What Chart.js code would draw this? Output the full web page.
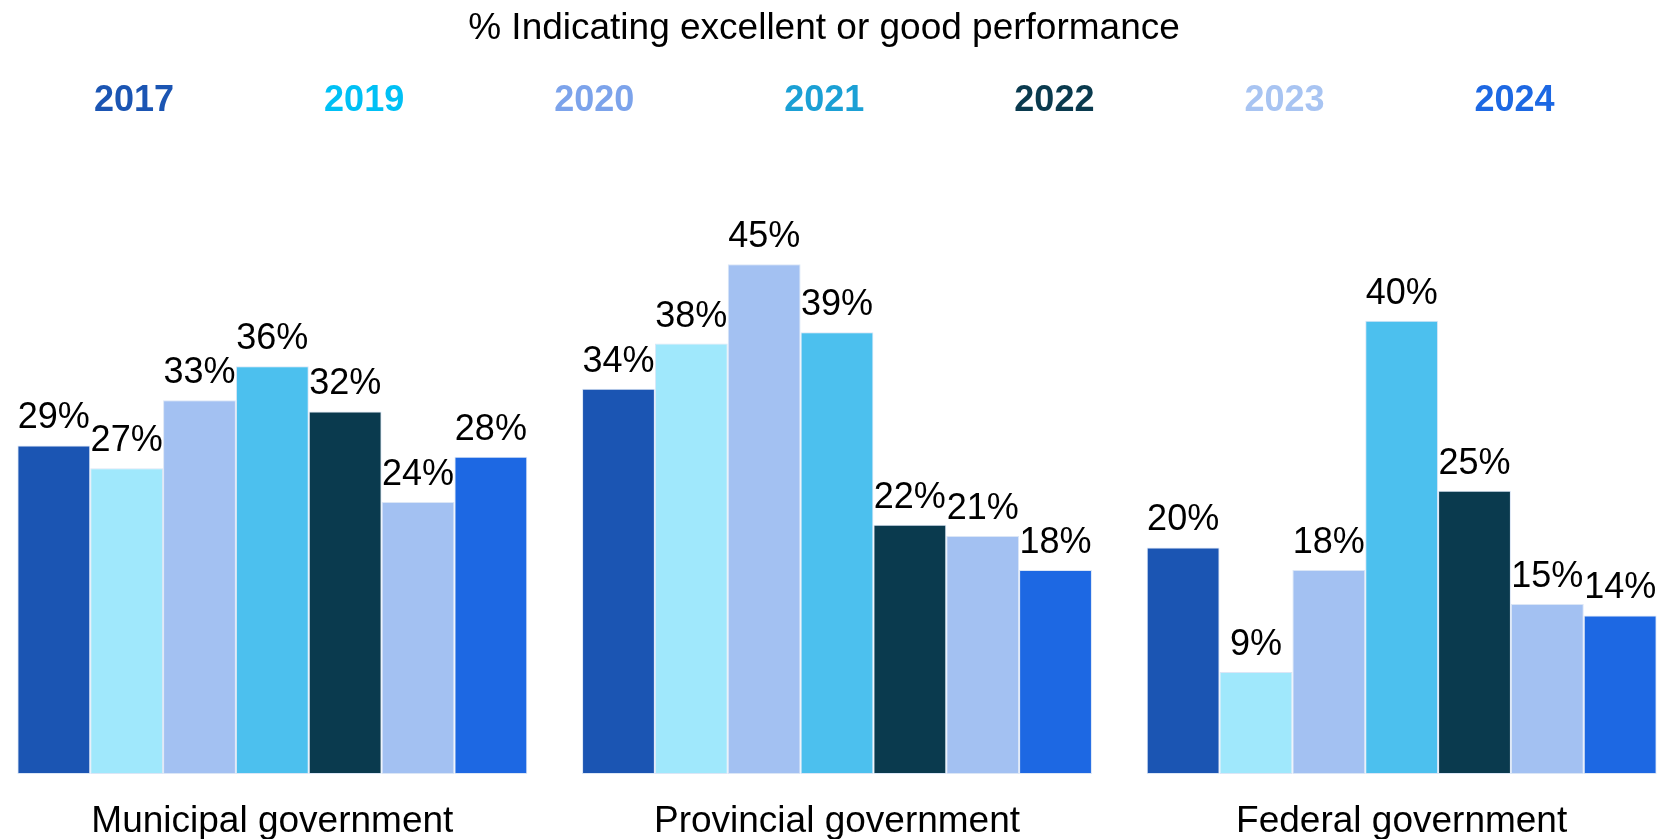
<!DOCTYPE html>
<html>
<head>
<meta charset="utf-8">
<script src="https://cdn.jsdelivr.net/npm/chart.js@4"></script>
<style>
  html, body { margin: 0; padding: 0; background: #fff; overflow: hidden; }
  body { width: 1658px; height: 839px; position: relative; }
  #wrap { position: absolute; left: -56px; top: 0; width: 1760px; height: 839px; }
</style>
</head>
<body>
<div id="wrap"><canvas id="chartGov"></canvas></div>
<script>
const categories = ['Municipal government', 'Provincial government', 'Federal government'];
const years = ['2017', '2019', '2020', '2021', '2022', '2023', '2024'];
const values2017 = [29, 34, 20];
const values2019 = [27, 38, 9];
const values2020 = [33, 45, 18];
const values2021 = [36, 39, 40];
const values2022 = [32, 22, 25];
const values2023 = [24, 21, 15];
const values2024 = [28, 18, 14];
const barColors = ['#1b55b3', '#a0e8fc', '#a3c1f2', '#4cc0ee', '#0a3a4e', '#a3c1f2', '#1d68e3'];
const legendColors = ['#1b55b3', '#00c0f5', '#7ca3eb', '#1ba0d5', '#0a3a4e', '#a8c4f2', '#1d68e3'];

const seriesValues = [values2017, values2019, values2020, values2021, values2022, values2023, values2024];
const FONT = '"Liberation Sans", Arial, sans-serif';

// draws the "NN%" labels above each bar
const barLabels = {
    id: 'barLabels',
    afterDatasetsDraw(chart) {
        const ctx = chart.ctx;
        ctx.save();
        ctx.font = '36px ' + FONT;
        ctx.fillStyle = '#000';
        ctx.textAlign = 'center';
        ctx.textBaseline = 'alphabetic';
        chart.data.datasets.forEach((ds, i) => {
            chart.getDatasetMeta(i).data.forEach((bar, j) => {
                ctx.fillText(ds.data[j] + '%', bar.x, bar.y - 17);
            });
        });
        ctx.restore();
    }
};

const ctxGov = document.getElementById('chartGov').getContext('2d');
const chartGov = new Chart(ctxGov, {
    type: 'bar',
    data: {
        labels: categories,
        datasets: years.map((y, i) => ({
            label: y,
            data: seriesValues[i],
            backgroundColor: barColors[i],
            borderColor: '#dbe6f6',
            borderWidth: 1,
            borderSkipped: false,
            categoryPercentage: 0.903,
            barPercentage: 1
        }))
    },
    options: {
        responsive: true,
        maintainAspectRatio: false,
        animation: false,
        layout: { padding: 0 },
        plugins: {
            title: {
                display: true,
                text: '% Indicating excellent or good performance',
                color: '#000',
                font: { family: FONT, size: 37, weight: 'normal' },
                padding: { top: 7, bottom: 22 }
            },
            legend: {
                display: true,
                align: 'start',
                labels: {
                    boxWidth: 122,
                    boxHeight: 36,
                    padding: 10,
                    font: { family: FONT, size: 36, weight: 'bold' },
                    generateLabels: chart => chart.data.datasets.map((ds, i) => ({
                        text: ds.label,
                        fontColor: legendColors[i],
                        fillStyle: 'rgba(0,0,0,0)',
                        strokeStyle: 'rgba(0,0,0,0)',
                        lineWidth: 0,
                        hidden: false,
                        datasetIndex: i
                    }))
                }
            },
            tooltip: { enabled: false }
        },
        scales: {
            x: {
                grid: { display: false, drawTicks: false },
                border: { display: false },
                ticks: {
                    color: '#000',
                    padding: 26,
                    font: { family: FONT, size: 37 }
                },
                afterFit: axis => { axis.height = 65; }
            },
            y: {
                min: 0,
                max: 56.9,
                grid: { display: false, drawTicks: false },
                border: { display: false },
                ticks: { display: false },
                afterFit: axis => { axis.width = 46; }
            },
            y2: {
                position: 'right',
                grid: { display: false, drawTicks: false },
                border: { display: false },
                ticks: { display: false },
                afterFit: axis => { axis.width = 20; }
            }
        }
    },
    plugins: [barLabels]
});
</script>
</body>
</html>
